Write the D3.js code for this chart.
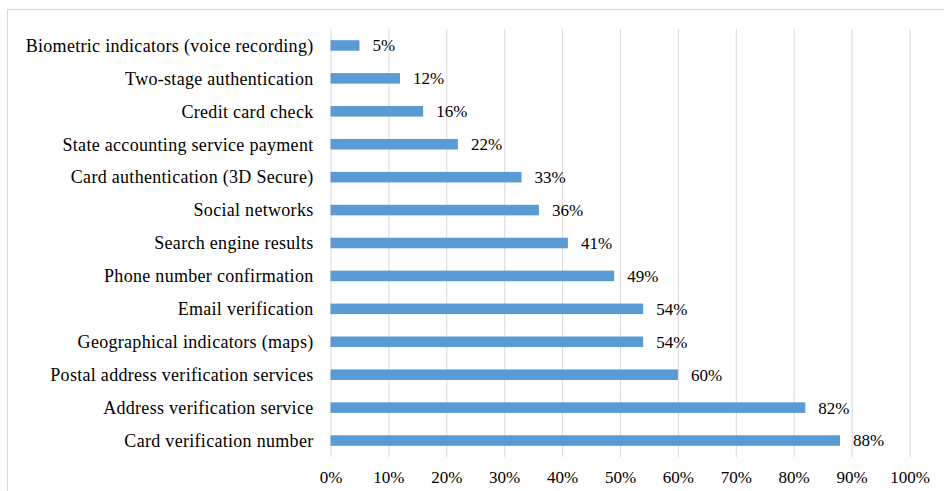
<!DOCTYPE html>
<meta charset="utf-8">
<head>
    <script src="https://d3js.org/d3.v7.min.js"></script>
</head>
<body style="margin:0; background:#fff">
<script>

    // categories top to bottom
    var categories = [
        "Biometric indicators (voice recording)",
        "Two-stage authentication",
        "Credit card check",
        "State accounting service payment",
        "Card authentication (3D Secure)",
        "Social networks",
        "Search engine results",
        "Phone number confirmation",
        "Email verification",
        "Geographical indicators (maps)",
        "Postal address verification services",
        "Address verification service",
        "Card verification number"
    ];
    var values = [5, 12, 16, 22, 33, 36, 41, 49, 54, 54, 60, 82, 88];
    var tickValues = [0, 10, 20, 30, 40, 50, 60, 70, 80, 90, 100];

    var serif = "'Liberation Serif', 'Times New Roman', serif";

    var width = 944,
        height = 491,
        margin = {top: 29, right: 34, bottom: 34, left: 330.5};

    var svg = d3.select("body")
        .append("svg")
        .attr("width", width)
        .attr("height", height)
        .style("display", "block");

    // outer chart border (runs off the right and bottom edges)
    svg.append("rect")
        .attr("x", 7.5)
        .attr("y", 9.5)
        .attr("width", 1000)
        .attr("height", 1000)
        .attr("fill", "none")
        .attr("stroke", "#d9d9d9");

    var x = d3.scaleLinear()
        .domain([0, 100])
        .range([margin.left, width - margin.right - 0.5]);

    var y = d3.scaleBand()
        .domain(categories)
        .range([margin.top, height - margin.bottom])
        .paddingInner(0.68)
        .paddingOuter(0.34);

    var plotH = height - margin.bottom - margin.top;

    // gridlines + tick labels
    var grid = svg.append("g")
        .attr("transform", "translate(0," + (height - margin.bottom) + ")")
        .call(d3.axisBottom(x)
            .tickValues(tickValues)
            .tickSize(-plotH)
            .tickPadding(14)
            .tickFormat(function (d) { return d + "%"; }));
    grid.select(".domain").remove();
    grid.selectAll(".tick line").attr("stroke", "#d9d9d9");
    grid.selectAll(".tick text")
        .style("font-family", serif)
        .style("font-size", "17px")
        .attr("fill", "#000");

    // bars
    svg.append("g")
        .selectAll("rect")
        .data(values)
        .enter()
        .append("rect")
        .attr("x", x(0))
        .attr("y", function (d, i) { return y(categories[i]); })
        .attr("width", function (d) { return x(d) - x(0); })
        .attr("height", y.bandwidth())
        .attr("fill", "#5b9bd5");

    // value labels
    svg.append("g")
        .selectAll("text")
        .data(values)
        .enter()
        .append("text")
        .attr("x", function (d) { return x(d) + 13; })
        .attr("y", function (d, i) { return y(categories[i]) + y.bandwidth() / 2; })
        .attr("dy", "0.35em")
        .style("font-family", serif)
        .style("font-size", "17px")
        .attr("fill", "#000")
        .text(function (d) { return d + "%"; });

    // category labels
    svg.append("g")
        .selectAll("text")
        .data(categories)
        .enter()
        .append("text")
        .attr("x", margin.left - 17)
        .attr("y", function (d) { return y(d) + y.bandwidth() / 2; })
        .attr("dy", "0.35em")
        .attr("text-anchor", "end")
        .style("font-family", serif)
        .style("font-size", "18px")
        .style("letter-spacing", "0.3px")
        .attr("fill", "#000")
        .text(function (d) { return d; });

</script>
</body>
</html>
